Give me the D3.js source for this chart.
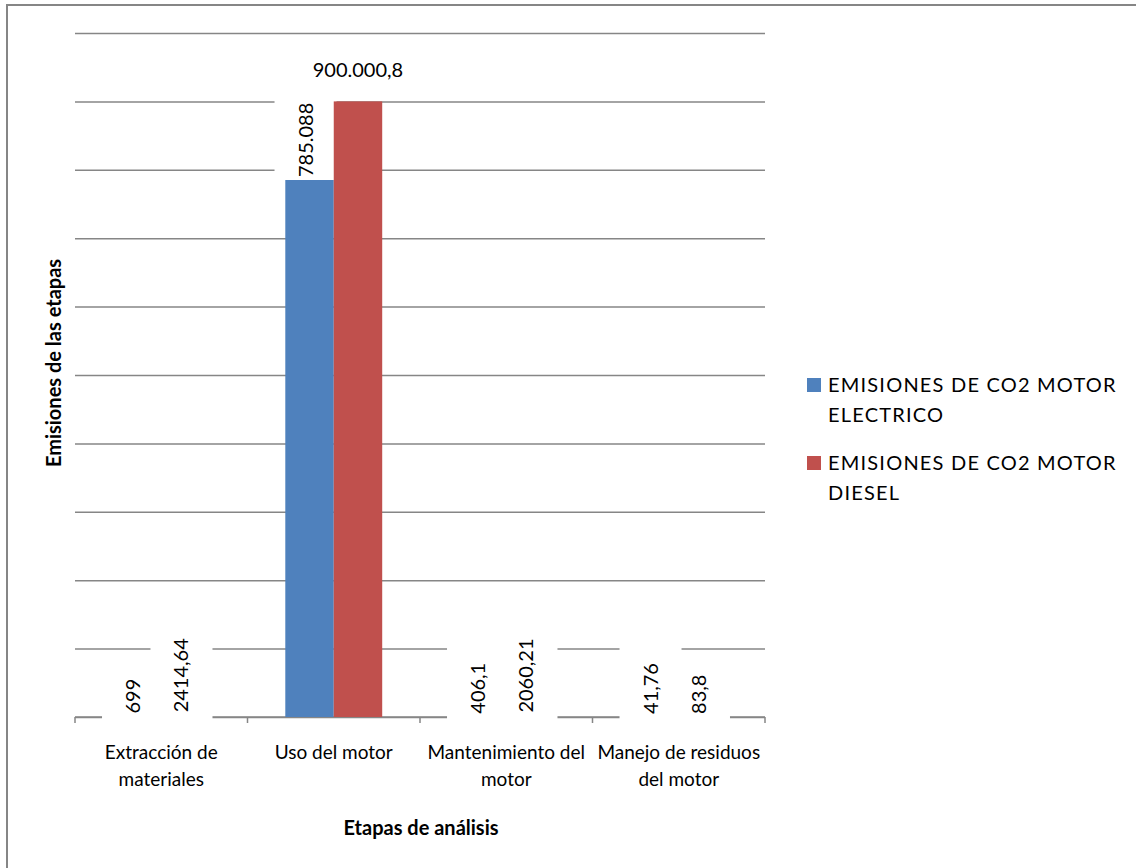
<!DOCTYPE html>
<html>
<head>
<meta charset="utf-8">
<script src="https://cdn.jsdelivr.net/npm/d3@7"></script>
<style>
  html, body { margin: 0; padding: 0; background: #fff; }
  svg { display: block; }
  text { font-family: Lato, "Open Sans", sans-serif; fill: #000; }
</style>
</head>
<body>
<svg id="chart" width="1136" height="868"></svg>
<script>
// Stages of the motor life cycle
const categories = [
  "Extracción de materiales",
  "Uso del motor",
  "Mantenimiento del motor",
  "Manejo de residuos del motor"
];
const seriesNames = [
  "EMISIONES DE CO2 MOTOR ELECTRICO",
  "EMISIONES DE CO2 MOTOR DIESEL"
];
// CO2 emissions per stage
const electrico = [699, 785088, 406.1, 41.76];
const diesel = [2414.64, 900000.8, 2060.21, 83.8];
// Data labels as printed on the chart
const labelsElectrico = ["699", "785.088", "406,1", "41,76"];
const labelsDiesel = ["2414,64", "900.000,8", "2060,21", "83,8"];
// Horizontal gridline positions
const gridValues = [0, 100000, 200000, 300000, 400000, 500000, 600000, 700000, 800000, 900000, 1000000];

const colors = ["#4F81BD", "#C0504D"];
const gridColor = "#868686";

const svg = d3.select("#chart");

// chart frame
svg.append("path")
  .attr("d", "M7,868 L7,5 L1136,5")
  .attr("fill", "none")
  .attr("stroke", gridColor)
  .attr("stroke-width", 2);

const plot = { left: 75, right: 765, top: 33, bottom: 717 };

const x = d3.scaleBand().domain(categories).range([plot.left, plot.right]).padding(0);
const xs = d3.scaleBand().domain(seriesNames).range([0, x.bandwidth()])
  .paddingInner(0).paddingOuter(0.78);
const y = d3.scaleLinear().domain([0, 1000000]).range([plot.bottom, plot.top]);

// gridlines
const gridG = svg.append("g").attr("transform", `translate(${plot.left},0)`)
  .call(d3.axisLeft(y).tickValues(gridValues).tickSize(-(plot.right - plot.left)).tickFormat(""));
gridG.select(".domain").remove();
gridG.selectAll(".tick line").attr("stroke", gridColor).attr("stroke-width", 1.5);

// category axis: baseline with boundary tick marks
const boundaries = categories.map(c => x(c)).concat([plot.right]);
const xAxisG = svg.append("g");
xAxisG.append("line")
  .attr("x1", plot.left).attr("x2", plot.right)
  .attr("y1", plot.bottom).attr("y2", plot.bottom)
  .attr("stroke", gridColor).attr("stroke-width", 1.5);
xAxisG.selectAll("line.tk").data(boundaries).join("line")
  .attr("class", "tk")
  .attr("x1", d => d).attr("x2", d => d)
  .attr("y1", plot.bottom).attr("y2", plot.bottom + 6)
  .attr("stroke", gridColor).attr("stroke-width", 1.5);

// flatten the bars
const bars = [];
categories.forEach((c, i) => {
  bars.push({ cat: c, s: 0, v: electrico[i], label: labelsElectrico[i] });
  bars.push({ cat: c, s: 1, v: diesel[i], label: labelsDiesel[i] });
});
bars.forEach(b => {
  b.x0 = x(b.cat) + xs(seriesNames[b.s]);
  b.w = xs.bandwidth();
  b.cx = b.x0 + b.w / 2;
  b.top = y(b.v);
});

const lowBoxLayer = svg.append("g");   // label boxes behind the bars
const barLayer = svg.append("g");
const baseBoxLayer = svg.append("g");  // label boxes resting on the baseline
const labelLayer = svg.append("g");

barLayer.selectAll("rect").data(bars).join("rect")
  .attr("x", d => d.x0)
  .attr("y", d => d.top)
  .attr("width", d => d.w)
  .attr("height", d => plot.bottom - d.top)
  .attr("fill", d => colors[d.s]);

// data labels: rotated above the bar, horizontal if the rotated one would leave the plot.
// Each rotated label sits on a white box; boxes of labels resting on the baseline cover it.
const labelFont = 20;
bars.forEach(b => {
  const t = labelLayer.append("text")
    .attr("font-size", labelFont)
    .text(b.label);
  const len = t.node().getComputedTextLength();
  if (b.top - 3 - len < plot.top) {
    t.attr("x", b.cx).attr("y", b.top - 24).attr("text-anchor", "middle");
  } else {
    const lx = b.cx - 4, ly = b.top - 3;
    t.attr("transform", `translate(${lx},${ly}) rotate(-90)`)
      .attr("dy", "0.35em")
      .attr("text-anchor", "start");
    const onBase = b.top > plot.bottom - 10;
    const boxBottom = onBase ? plot.bottom + 2 : b.top;
    const boxTop = ly - len - 18;
    (onBase ? baseBoxLayer : lowBoxLayer).append("rect")
      .attr("x", lx - 31).attr("width", 62)
      .attr("y", boxTop).attr("height", boxBottom - boxTop)
      .attr("fill", "#fff");
  }
});

// category labels, wrapped within the band
const catFont = 19;
const catG = svg.append("g");
categories.forEach(c => {
  const words = c.split(" ");
  const lines = [];
  let cur = [];
  const probe = catG.append("text").attr("font-size", catFont);
  words.forEach(w => {
    const trial = cur.concat([w]).join(" ");
    probe.text(trial);
    if (probe.node().getComputedTextLength() > 172 && cur.length) {
      lines.push(cur.join(" "));
      cur = [w];
    } else {
      cur.push(w);
    }
  });
  lines.push(cur.join(" "));
  probe.remove();
  const t = catG.append("text")
    .attr("font-size", catFont)
    .attr("text-anchor", "middle");
  lines.forEach((ln, i) => {
    t.append("tspan").attr("x", x(c) + x.bandwidth() / 2).attr("y", 759 + i * 27).text(ln);
  });
});

// axis titles
svg.append("text")
  .attr("x", (plot.left + plot.right) / 2 + 1).attr("y", 835)
  .attr("text-anchor", "middle")
  .attr("font-size", 20).attr("font-weight", "bold")
  .text("Etapas de análisis");

svg.append("text")
  .attr("transform", "translate(61,363) rotate(-90)")
  .attr("text-anchor", "middle")
  .attr("font-size", 20).attr("font-weight", "bold")
  .text("Emisiones de las etapas");

// legend
const legend = svg.append("g");
const legendRows = [
  { lines: ["EMISIONES DE CO2 MOTOR", "ELECTRICO"], y: 392 },
  { lines: ["EMISIONES DE CO2 MOTOR", "DIESEL"], y: 470 }
];
legendRows.forEach((r, i) => {
  legend.append("rect")
    .attr("x", 807).attr("y", r.y - 14)
    .attr("width", 14).attr("height", 14)
    .attr("fill", colors[i]);
  const t = legend.append("text")
    .attr("font-size", 20)
    .attr("letter-spacing", 1.2);
  r.lines.forEach((ln, j) => {
    t.append("tspan").attr("x", 828).attr("y", r.y + j * 30).text(ln);
  });
});
</script>
</body>
</html>
